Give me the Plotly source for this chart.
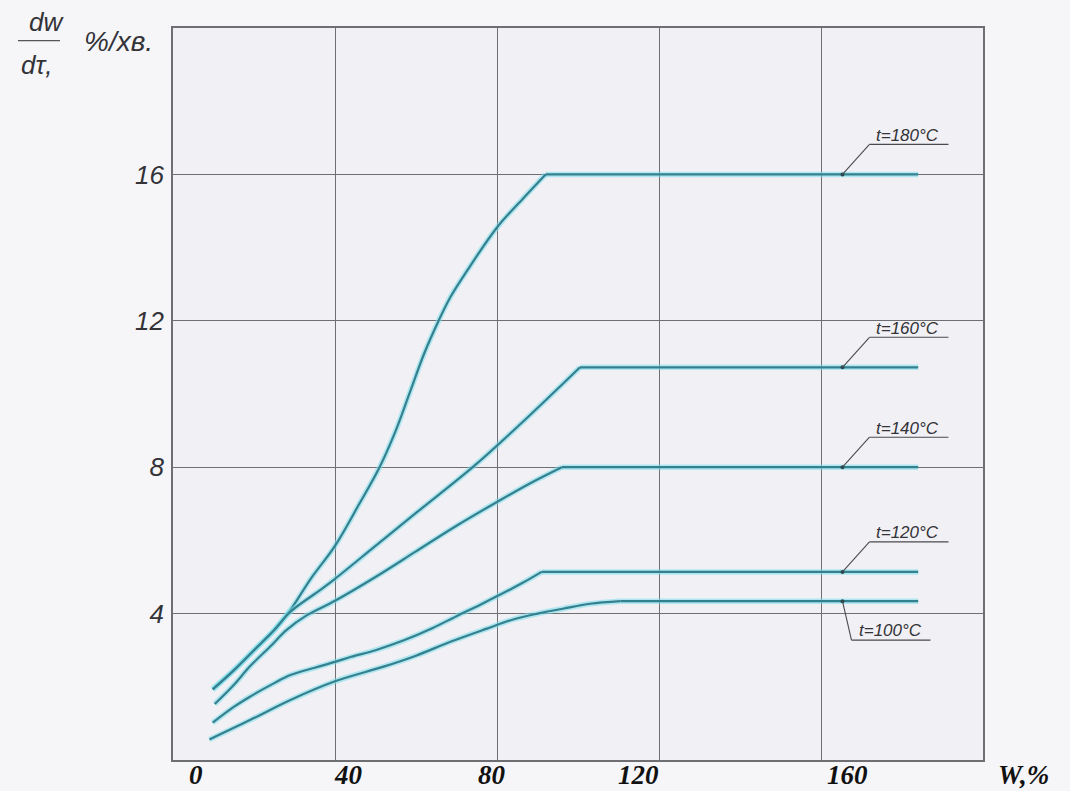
import plotly.graph_objects as go

# Drying rate dw/dτ (%/хв) versus moisture content W (%) at several drying temperatures
temps = [180, 160, 140, 120, 100]

w_180 = [9.8, 15, 20, 25, 29, 34, 40, 46, 51, 55, 58.5, 62, 65.5, 68.5, 72.5, 80, 86.5, 92, 184]
r_180 = [1.93, 2.45, 3.0, 3.55, 4.1, 4.95, 5.85, 7.0, 8.0, 9.0, 10.05, 11.1, 11.98, 12.65, 13.35, 14.55, 15.35, 16.0, 16.0]

w_160 = [9.8, 15, 20, 25, 29, 36.3, 40, 50, 60, 74, 86, 100.5, 184]
r_160 = [1.93, 2.45, 3.0, 3.55, 4.05, 4.64, 4.95, 5.85, 6.75, 8.0, 9.2, 10.73, 10.73]

w_140 = [10.3, 15, 19, 24, 28, 33, 40, 50, 60, 70, 80, 88, 96, 184]
r_140 = [1.53, 2.05, 2.56, 3.1, 3.55, 3.95, 4.35, 5.0, 5.7, 6.4, 7.05, 7.55, 8.0, 8.0]

w_120 = [9.8, 15, 19, 25, 29, 35, 40, 44, 50, 57, 64, 70, 76, 86, 91, 184]
r_120 = [1.02, 1.45, 1.73, 2.1, 2.32, 2.52, 2.68, 2.82, 3.0, 3.27, 3.6, 3.93, 4.25, 4.82, 5.14, 5.14]

w_100 = [9, 19, 29, 40, 52, 60, 68.5, 77.5, 84, 90, 96.5, 103, 110.5, 184]
r_100 = [0.56, 1.09, 1.64, 2.15, 2.55, 2.85, 3.23, 3.59, 3.84, 4.0, 4.14, 4.27, 4.34, 4.34]

x_ticks = [0, 40, 80, 120, 160]
y_ticks = [4, 8, 12, 16]

series = [(w_180, r_180), (w_160, r_160), (w_140, r_140), (w_120, r_120), (w_100, r_100)]

LINE = "#34808f"
HALO = "rgba(120,222,236,0.55)"
GRID = "#6f6f73"
INK = "#333338"
HAND = "Liberation Sans, Arial, sans-serif"
SERIF = "Liberation Serif, Times New Roman, serif"

fig = go.Figure()

for w, r in series:
    knee = r.index(max(r))
    parts = [
        (w[: knee + 1], r[: knee + 1], "spline"),
        (w[knee:], r[knee:], "linear"),
    ]
    for color, width in ((HALO, 5.5), (LINE, 2.2)):
        for xs, ys, shape in parts:
            fig.add_trace(go.Scatter(
                x=xs, y=ys, mode="lines",
                line=dict(color=color, width=width, shape=shape, smoothing=1.0),
                hoverinfo="skip", showlegend=False,
            ))

# leader lines with underlined temperature labels
lead_x = 165.3
for t, (w, r) in zip(temps, series):
    level = r[-1]
    if t == 100:
        kink, end, txt_dx, txt_dy = (9, -39), 88, 48, -29
    else:
        kink, end, txt_dx, txt_dy = (27, 30), 106, 65, 39
    fig.add_shape(type="line", xref="x", yref="y",
                  xsizemode="pixel", ysizemode="pixel",
                  xanchor=lead_x, yanchor=level,
                  x0=0, y0=0, x1=kink[0], y1=kink[1],
                  line=dict(color="#4a4a4f", width=1.1))
    fig.add_shape(type="line", xref="x", yref="y",
                  xsizemode="pixel", ysizemode="pixel",
                  xanchor=lead_x, yanchor=level,
                  x0=kink[0], y0=kink[1], x1=end, y1=kink[1],
                  line=dict(color="#4a4a4f", width=1.1))
    fig.add_trace(go.Scatter(
        x=[lead_x], y=[level], mode="markers",
        marker=dict(size=4, color="#2a4a50"),
        hoverinfo="skip", showlegend=False,
    ))
    fig.add_annotation(
        x=lead_x, y=level, xref="x", yref="y",
        xshift=txt_dx, yshift=txt_dy,
        xanchor="center", yanchor="middle",
        text=f"t={t}°C", showarrow=False,
        font=dict(family=HAND, size=17, color=INK, style="italic"),
    )

# x tick labels (bold italic serif, hand-placed beside the grid lines)
x_shift_px = [23, 13, -5, -21, 26]
for v, dx in zip(x_ticks, x_shift_px):
    fig.add_annotation(
        x=v, y=-0.0205, xref="x", yref="paper",
        xshift=dx, xanchor="center", yanchor="middle",
        text=str(v), showarrow=False,
        font=dict(family=SERIF, size=27, color="#111", weight="bold", style="italic"),
    )
fig.add_annotation(
    x=1.0494, y=-0.0205, xref="paper", yref="paper",
    xanchor="center", yanchor="middle",
    text="W,%", showarrow=False,
    font=dict(family=SERIF, size=27, color="#111", weight="bold", style="italic"),
)

# y axis title: dw/dτ, %/хв
title_font = dict(family=HAND, size=26, color=INK, style="italic")
fig.add_annotation(x=-0.1556, y=1.0082, xref="paper", yref="paper",
                   xanchor="center", yanchor="middle",
                   text="dw", showarrow=False, font=title_font)
fig.add_annotation(x=-0.168, y=0.9495, xref="paper", yref="paper",
                   xanchor="center", yanchor="middle",
                   text="dτ,", showarrow=False, font=title_font)
fig.add_shape(type="line", xref="paper", yref="paper",
              x0=-0.1914, x1=-0.1395, y0=0.9827, y1=0.9827,
              line=dict(color="#55555a", width=1.2))
fig.add_annotation(x=-0.0679, y=0.981, xref="paper", yref="paper",
                   xanchor="center", yanchor="middle",
                   text="%/хв.", showarrow=False,
                   font=dict(family=HAND, size=28, color=INK, style="italic"))

fig.update_xaxes(
    range=[0, 200], tickvals=x_ticks, showticklabels=False,
    showgrid=True, gridcolor=GRID, gridwidth=1.3,
    showline=True, linecolor=GRID, linewidth=1.6, mirror=True,
    zeroline=False, ticks="",
)
fig.update_yaxes(
    range=[0, 20], tickvals=y_ticks, ticktext=[str(v) for v in y_ticks],
    showgrid=True, gridcolor=GRID, gridwidth=1.3,
    showline=True, linecolor=GRID, linewidth=1.6, mirror=True,
    zeroline=False, ticks="", ticklabelstandoff=2,
    tickfont=dict(family=HAND, size=26, color=INK, style="italic"),
)

fig.update_layout(
    width=1070, height=791,
    margin=dict(l=173, r=87, t=28, b=31),
    paper_bgcolor="#f6f6f8",
    plot_bgcolor="#f1f0f4",
    showlegend=False,
)

fig.write_html("out.html")
